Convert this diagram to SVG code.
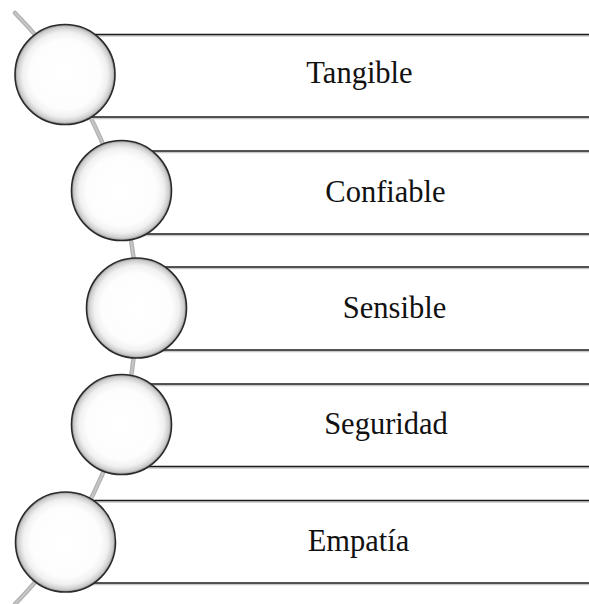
<svg xmlns="http://www.w3.org/2000/svg" width="589" height="604" viewBox="0 0 589 604">
<defs>
<radialGradient id="ball" cx="50%" cy="50%" r="50%">
<stop offset="0" stop-color="#ffffff"/>
<stop offset="0.7" stop-color="#fdfdfd"/>
<stop offset="0.85" stop-color="#f0f0f0"/>
<stop offset="0.95" stop-color="#cdcdcd"/>
<stop offset="1" stop-color="#8e8e8e"/>
</radialGradient>
</defs>
<style>
.ln{stroke:#1a1a1a;stroke-width:1.6;fill:none}
.sh{stroke:#c8c8c8;stroke-width:1.6;fill:none}
.ball{fill:url(#ball);stroke:#2a2a2a;stroke-width:1.6}
.lbl{font-family:"Liberation Serif","Times New Roman",serif;font-size:30.5px;fill:#111;text-anchor:middle}
.spine{stroke:#b0b0b0;stroke-width:4.5;fill:none;stroke-linecap:round}
.spine2{stroke:#c6c6c6;stroke-width:2;fill:none;stroke-linecap:round}
</style>
<rect width="589" height="604" fill="#ffffff"/>
<g id="connectors">
<path class="spine" d="M15,13 A420,420 0 0 1 15,604"/>
<path class="spine2" d="M15,13 A420,420 0 0 1 15,604"/>
</g>
<g id="node1">
<line class="sh" x1="65" y1="36" x2="589" y2="36"/>
<line class="ln" x1="65" y1="34.5" x2="589" y2="34.5"/>
<line class="sh" x1="65" y1="118.5" x2="589" y2="118.5"/>
<line class="ln" x1="65" y1="117" x2="589" y2="117"/>
<circle class="ball" cx="65" cy="74.5" r="50"/>
<text class="lbl" x="359.5" y="83">Tangible</text>
</g>
<g id="node2">
<line class="sh" x1="121" y1="152.5" x2="589" y2="152.5"/>
<line class="ln" x1="121" y1="151" x2="589" y2="151"/>
<line class="sh" x1="121" y1="235.5" x2="589" y2="235.5"/>
<line class="ln" x1="121" y1="234" x2="589" y2="234"/>
<circle class="ball" cx="121.5" cy="190.5" r="50"/>
<text class="lbl" x="385.5" y="202">Confiable</text>
</g>
<g id="node3">
<line class="sh" x1="136" y1="268.5" x2="589" y2="268.5"/>
<line class="ln" x1="136" y1="267" x2="589" y2="267"/>
<line class="sh" x1="136" y1="351.5" x2="589" y2="351.5"/>
<line class="ln" x1="136" y1="350" x2="589" y2="350"/>
<circle class="ball" cx="136.5" cy="308" r="50"/>
<text class="lbl" x="394.5" y="318">Sensible</text>
</g>
<g id="node4">
<line class="sh" x1="121" y1="385.5" x2="589" y2="385.5"/>
<line class="ln" x1="121" y1="384" x2="589" y2="384"/>
<line class="sh" x1="121" y1="468" x2="589" y2="468"/>
<line class="ln" x1="121" y1="466.5" x2="589" y2="466.5"/>
<circle class="ball" cx="121.5" cy="424.5" r="50"/>
<text class="lbl" x="386" y="434">Seguridad</text>
</g>
<g id="node5">
<line class="sh" x1="65" y1="502" x2="589" y2="502"/>
<line class="ln" x1="65" y1="500.5" x2="589" y2="500.5"/>
<line class="sh" x1="65" y1="584.5" x2="589" y2="584.5"/>
<line class="ln" x1="65" y1="583" x2="589" y2="583"/>
<circle class="ball" cx="65.5" cy="542" r="50"/>
<text class="lbl" x="358.5" y="551">Empatía</text>
</g>
</svg>
